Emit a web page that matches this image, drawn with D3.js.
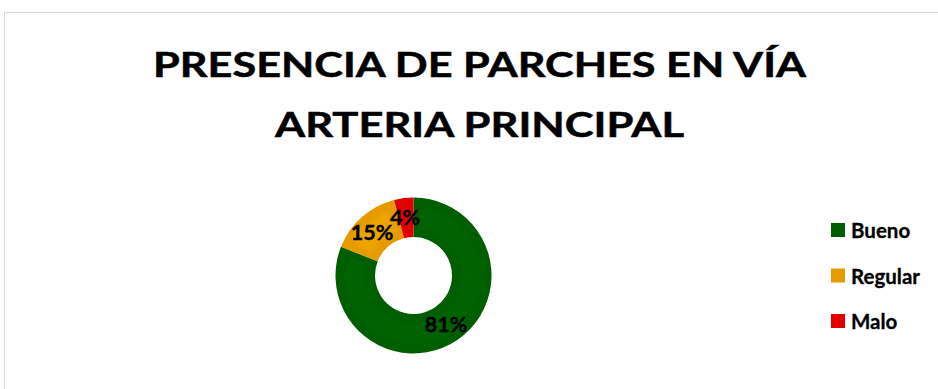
<!DOCTYPE html>
<html>
<head>
<meta charset="utf-8">
<script src="https://cdn.jsdelivr.net/npm/d3@7"></script>
<style>
  html, body { margin: 0; padding: 0; background: #fff; }
  svg { display: block; }
  text { font-family: Lato, "Open Sans", "Liberation Sans", sans-serif; font-weight: bold; fill: #000; }
</style>
</head>
<body>
<svg id="chart" width="938" height="389"></svg>
<script>
// Survey shares of road patches on the main artery
const categories = ["Bueno", "Regular", "Malo"];
const values = [81, 15, 4];
const colors = ["#005e00", "#e59a00", "#e00000"];
const bevelColors = ["#006300", "#eea400", "#e80808"];
const titleLines = ["PRESENCIA DE PARCHES EN VÍA", "ARTERIA PRINCIPAL"];

const svg = d3.select("#chart");
const W = 938, H = 389;

// chart frame
svg.append("rect")
  .attr("x", 4.5).attr("y", 12.5)
  .attr("width", W + 10).attr("height", H + 10)
  .attr("fill", "none").attr("stroke", "#d9d9d9").attr("stroke-width", 1);

// title
const titleWidths = [653, 409];
const titleBase = [77, 137];
titleLines.forEach((t, i) => {
  svg.append("text")
    .attr("x", 479.5).attr("y", titleBase[i])
    .attr("text-anchor", "middle")
    .attr("font-size", 35)
    .attr("stroke", "#000").attr("stroke-width", 0.5)
    .attr("textLength", titleWidths[i])
    .attr("lengthAdjust", "spacingAndGlyphs")
    .text(t);
});

// donut
const cx = 413.5, cy = 275.5, rOuter = 78, rInner = 38.5;
const data = categories.map((c, i) => ({ name: c, value: values[i], color: colors[i], bevel: bevelColors[i] }));
const pie = d3.pie().value(d => d.value).sort(null);
const arcs = pie(data);
const arc = d3.arc().innerRadius(rInner).outerRadius(rOuter);
const bevelArc = d3.arc().innerRadius(rInner + 9).outerRadius(rOuter - 9);

const defs = svg.append("defs");
defs.append("filter").attr("id", "soft")
  .append("feGaussianBlur").attr("stdDeviation", 2.2);
arcs.forEach((a, i) => {
  defs.append("clipPath").attr("id", "clip" + i)
    .append("path").attr("d", arc(a));
});

const g = svg.append("g").attr("transform", `translate(${cx},${cy})`);
g.selectAll("path.slice").data(arcs).join("path")
  .attr("class", "slice")
  .attr("d", arc)
  .attr("fill", d => d.data.color);

// soft inner bevel band
g.selectAll("path.bevel").data(arcs).join("path")
  .attr("class", "bevel")
  .attr("clip-path", (d, i) => `url(#clip${i})`)
  .attr("d", d => bevelArc({ ...d, startAngle: d.startAngle + 0.12, endAngle: d.endAngle - 0.12 }))
  .attr("fill", d => d.data.bevel)
  .attr("filter", "url(#soft)");

// percentage labels
const labelPos = [[446, 332], [372, 240], [405, 225]];
arcs.forEach((a, i) => {
  svg.append("text")
    .attr("x", labelPos[i][0]).attr("y", labelPos[i][1])
    .attr("text-anchor", "middle")
    .attr("font-size", 21.5)
    .attr("stroke", "#000").attr("stroke-width", 0.4)
    .text(Math.round(a.data.value) + "%");
});

// legend
const legend = svg.append("g");
const ly = d3.scalePoint().domain(categories).range([230.5, 321.5]);
categories.forEach((c, i) => {
  legend.append("rect")
    .attr("x", 831).attr("y", ly(c) - 7.5)
    .attr("width", 14).attr("height", 14)
    .attr("fill", colors[i]);
  legend.append("text")
    .attr("x", 851).attr("y", ly(c) + 7.5)
    .attr("font-size", 20.5)
    .attr("stroke", "#000").attr("stroke-width", 0.3)
    .text(c);
});
</script>
</body>
</html>
